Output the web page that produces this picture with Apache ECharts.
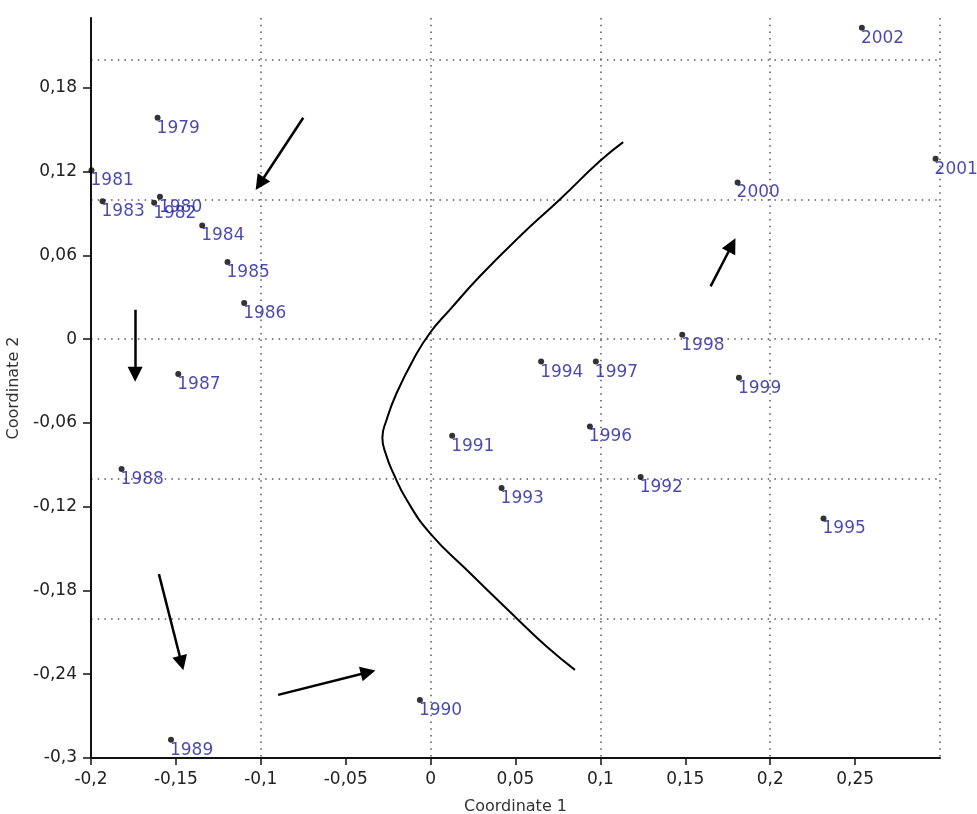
<!DOCTYPE html>
<html><head><meta charset="utf-8">
<script src="https://cdn.jsdelivr.net/npm/echarts@6/dist/echarts.min.js"></script>
<style>html,body{margin:0;padding:0;background:#fff}#c{width:977px;height:814px}</style>
</head><body><div id="c"></div>
<script>
// ---- data ----
const years  = ['1979','1980','1981','1982','1983','1984','1985','1986','1987','1988','1989','1990',
                '1991','1992','1993','1994','1995','1996','1997','1998','1999','2000','2001','2002'];
const coord1 = [-0.1608,-0.1594,-0.1997,-0.1628,-0.1932,-0.1345,-0.1196,-0.1098,-0.1486,-0.1820,-0.1529,-0.0063,
                 0.0127, 0.1237, 0.0418, 0.0651, 0.2314, 0.0938, 0.0973, 0.1482, 0.1816, 0.1808, 0.2974, 0.2540];
const coord2 = [ 0.1586, 0.1019, 0.1210, 0.0976, 0.0988, 0.0814, 0.0553, 0.0259,-0.0249,-0.0930,-0.2869,-0.2584,
                -0.0692,-0.0988,-0.1067,-0.0161,-0.1285,-0.0625,-0.0161, 0.0032,-0.0276, 0.1122, 0.1292, 0.2231];
const xTicks = [-0.2,-0.15,-0.1,-0.05,0,0.05,0.1,0.15,0.2,0.25];
const yTicks = [-0.3,-0.24,-0.18,-0.12,-0.06,0,0.06,0.12,0.18];
// hand-drawn separating curve
const curveX = [0.1134,0.0997,0.0761,0.0526,0.0290,0.0114,-0.0004,-0.0102,-0.0200,-0.0259,-0.0284,-0.0259,-0.0220,-0.0141,-0.0004,0.0212,0.0506,0.0683,0.0850];
const curveY = [0.1411,0.1275,0.1000,0.0737,0.0450,0.0211, 0.0044,-0.0147,-0.0386,-0.0577,-0.0706,-0.0840,-0.0959,-0.1151,-0.1389,-0.1652,-0.1999,-0.2202,-0.2369];
// arrows (tail -> head)
const arrowFromX = [-0.0750,-0.1740,-0.1600,-0.0898,0.1649];
const arrowFromY = [ 0.1586, 0.0211,-0.1683,-0.2548,0.0378];
const arrowToX   = [-0.1006,-0.1740,-0.1467,-0.0368,0.1775];
const arrowToY   = [ 0.1113,-0.0252,-0.2320,-0.2386,0.0674];

const fmt = v => String(+(+v).toFixed(2)).replace('.', ',');
const FONT = 'DejaVu Sans';
const gridLine = {show:true, lineStyle:{color:'#555', width:1.5, type:[1.5,5.2]}};

const chart = echarts.init(document.getElementById('c'), null, {renderer:'canvas'});
chart.setOption({
  backgroundColor:'#fff',
  animation:false,
  grid:{left:91, right:37, top:18, bottom:56, containLabel:false, outerBoundsMode:'none'},
  xAxis:[{
    type:'value', min:-0.2, max:0.3,
    name:'Coordinate 1', nameLocation:'middle', nameGap:41,
    nameTextStyle:{fontFamily:FONT, fontSize:16, color:'#333'},
    axisLine:{show:true, onZero:false, lineStyle:{color:'#111', width:2}},
    axisTick:{show:true, length:7, customValues:xTicks, lineStyle:{color:'#111', width:1.5}},
    axisLabel:{show:true, customValues:xTicks, formatter:fmt, margin:13, fontFamily:FONT, fontSize:17, color:'#222'},
    splitLine:{show:false}
  },{
    type:'value', min:-0.2, max:0.3, interval:0.1, position:'top',
    axisLine:{show:false}, axisTick:{show:false}, axisLabel:{show:false},
    splitLine:gridLine
  }],
  yAxis:[{
    type:'value', min:-0.3, max:0.23,
    name:'Coordinate 2', nameLocation:'middle', nameGap:68,
    nameTextStyle:{fontFamily:FONT, fontSize:16, color:'#333'},
    axisLine:{show:true, onZero:false, lineStyle:{color:'#111', width:2}},
    axisTick:{show:true, length:8, customValues:yTicks, lineStyle:{color:'#111', width:1.5}},
    axisLabel:{show:true, customValues:yTicks, formatter:fmt, margin:14, fontFamily:FONT, fontSize:17, color:'#222'},
    splitLine:{show:false}
  },{
    type:'value', min:-0.3, max:0.23, interval:0.1, position:'right',
    axisLine:{show:false}, axisTick:{show:false}, axisLabel:{show:false},
    splitLine:Object.assign({showMaxLine:false}, gridLine)
  }],
  series:[{
    type:'line', xAxisIndex:0, yAxisIndex:0, smooth:0.5, showSymbol:false, silent:true,
    lineStyle:{color:'#000', width:2},
    data: curveX.map((x,i)=>[x, curveY[i]]), z:3
  },{
    type:'lines', coordinateSystem:'cartesian2d', xAxisIndex:0, yAxisIndex:0,
    symbol:['none','triangle'], symbolSize:15, silent:true,
    lineStyle:{color:'#000', width:2.5, opacity:1, curveness:0},
    data: arrowFromX.map((x,i)=>({coords:[[x, arrowFromY[i]],[arrowToX[i], arrowToY[i]]]})), z:3
  },{
    type:'scatter', xAxisIndex:0, yAxisIndex:0, symbol:'circle', symbolSize:6,
    itemStyle:{color:'#000'},
    label:{show:true, position:[2,5], align:'left', verticalAlign:'top',
      formatter:p=>years[p.dataIndex], fontFamily:FONT, fontSize:17, color:'#1c1c9c'},
    labelLayout:{hideOverlap:false},
    data: coord1.map((x,i)=>[x, coord2[i]]), z:4
  }]
});
</script></body></html>
